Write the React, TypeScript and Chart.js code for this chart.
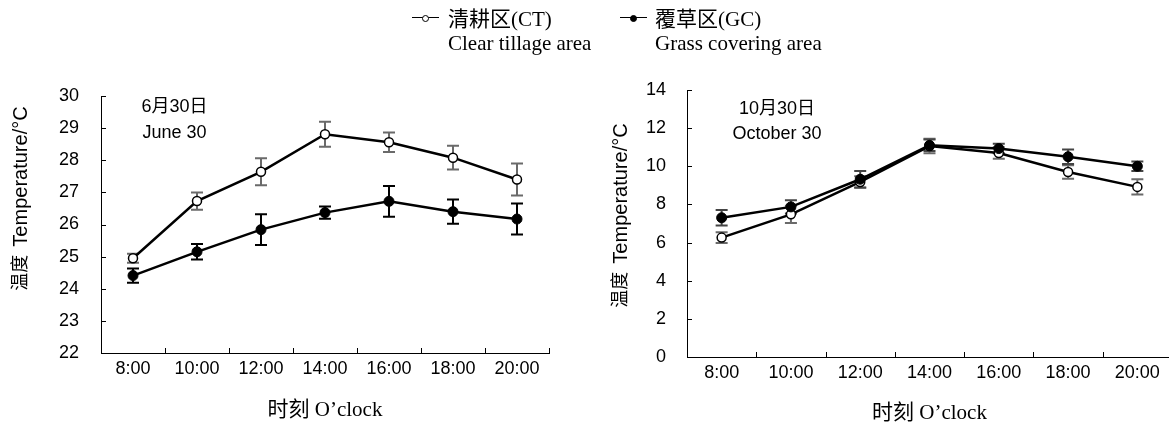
import React, { useEffect, useRef } from 'react';
import { Chart, registerables } from 'chart.js';

Chart.register(...registerables);

const categories = ['8:00', '10:00', '12:00', '14:00', '16:00', '18:00', '20:00'];

const juneCT = [24.95, 26.73, 27.64, 28.81, 28.56, 28.08, 27.4];
const juneCTErr = [0.14, 0.27, 0.42, 0.39, 0.3, 0.37, 0.5];
const juneGC = [24.41, 25.15, 25.84, 26.37, 26.72, 26.4, 26.17];
const juneGCErr = [0.22, 0.24, 0.48, 0.19, 0.48, 0.38, 0.48];

const octCT = [6.26, 7.48, 9.18, 11.06, 10.7, 9.7, 8.92];
const octCTErr = [0.28, 0.45, 0.3, 0.38, 0.3, 0.35, 0.4];
const octGC = [7.3, 7.87, 9.32, 11.1, 10.93, 10.5, 10.0];
const octGCErr = [0.41, 0.35, 0.43, 0.3, 0.25, 0.38, 0.25];

const juneTicks = { min: 22, max: 30, step: 1 };
const octTicks = { min: 0, max: 14, step: 2 };

const seriesNames = ['清耕区(CT)', '覆草区(GC)'];
const seriesNamesEn = ['Clear tillage area', 'Grass covering area'];
const xTitle = '时刻 O’clock';
const yTitleCn = '温度';
const yTitleEn = 'Temperature/°C';
const juneNote = ['6月30日', 'June 30'];
const octNote = ['10月30日', 'October 30'];

const SANS = '"Liberation Sans", Arial, "Noto Sans CJK SC", sans-serif';
const SERIF = '"Liberation Serif", "Times New Roman", "Noto Sans CJK SC", serif';

const decorPlugin = {
  id: 'decor',
  beforeDatasetsDraw(chart: any) {
    const ctx = chart.ctx;
    const ys = chart.scales.y;
    chart.data.datasets.forEach((ds: any, i: number) => {
      const meta = chart.getDatasetMeta(i);
      ctx.save();
      ctx.strokeStyle = ds.errorColor;
      ctx.lineWidth = 2;
      meta.data.forEach((pt: any, j: number) => {
        const v = ds.data[j];
        const e = ds.errors[j];
        const x = pt.x;
        const y1 = ys.getPixelForValue(v + e);
        const y2 = ys.getPixelForValue(v - e);
        const cap = 6;
        ctx.beginPath();
        ctx.moveTo(x, y1);
        ctx.lineTo(x, y2);
        ctx.moveTo(x - cap, y1);
        ctx.lineTo(x + cap, y1);
        ctx.moveTo(x - cap, y2);
        ctx.lineTo(x + cap, y2);
        ctx.stroke();
      });
      ctx.restore();
    });
  },
  afterDraw(chart: any, _args: any, opts: any) {
    const ctx = chart.ctx;
    const xs = chart.scales.x;
    const ys = chart.scales.y;
    const ca = chart.chartArea;
    ctx.save();
    ctx.strokeStyle = '#000';
    ctx.lineWidth = 1;
    ctx.beginPath();
    ys.ticks.forEach((_t: any, i: number) => {
      const py = Math.round(ys.getPixelForTick(i)) + 0.5;
      ctx.moveTo(ca.left, py);
      ctx.lineTo(ca.left + 5, py);
    });
    const n = chart.data.labels.length;
    for (let i = 0; i <= n; i++) {
      const px = Math.round(xs.getPixelForValue(i - 0.5)) + 0.5;
      ctx.moveTo(px, ca.bottom);
      ctx.lineTo(px, ca.bottom - 5);
    }
    ctx.stroke();

    // y title (mixed fonts, rotated)
    const yt = opts.yTitle;
    ctx.save();
    ctx.translate(yt.x, yt.y);
    ctx.rotate(-Math.PI / 2);
    ctx.fillStyle = '#000';
    ctx.textBaseline = 'middle';
    ctx.textAlign = 'left';
    const fCn = '18px ' + SERIF;
    const fEn = '20px ' + SANS;
    ctx.font = fCn;
    const w1 = ctx.measureText(yTitleCn).width;
    ctx.font = fEn;
    const w2 = ctx.measureText(yTitleEn).width;
    const gap = 8;
    const sx = -(w1 + gap + w2) / 2;
    ctx.font = fCn;
    ctx.fillText(yTitleCn, sx, 0);
    ctx.font = fEn;
    ctx.fillText(yTitleEn, sx + w1 + gap, 0);
    ctx.restore();

    // date note
    const nt = opts.note;
    ctx.fillStyle = '#000';
    ctx.textAlign = 'center';
    ctx.textBaseline = 'middle';
    ctx.font = '18px ' + SANS;
    nt.lines.forEach((t: string, i: number) => {
      ctx.fillText(t, nt.x, nt.ys[i]);
    });
    ctx.restore();
  },
};

function makeConfig(
  ct: number[], ctErr: number[], gc: number[], gcErr: number[],
  ticks: { min: number; max: number; step: number },
  layout: { yWidth: number; xHeight: number; top: number; right: number; titleBottom: number; labelPad: number; yPad: number },
  yTitle: { x: number; y: number },
  note: { x: number; ys: number[]; lines: string[] },
  gcErrColor: string,
): any {
  return {
    type: 'line',
    data: {
      labels: categories,
      datasets: [
        {
          label: seriesNames[0],
          data: ct,
          errors: ctErr,
          errorColor: '#6a6a6a',
          borderColor: '#000',
          borderWidth: 2.5,
          pointRadius: 4.5,
          pointBackgroundColor: '#fff',
          pointBorderColor: '#000',
          pointBorderWidth: 1.5,
          fill: false,
          tension: 0,
          order: 2,
        },
        {
          label: seriesNames[1],
          data: gc,
          errors: gcErr,
          errorColor: gcErrColor,
          borderColor: '#000',
          borderWidth: 2.5,
          pointRadius: 5,
          pointBackgroundColor: '#000',
          pointBorderColor: '#000',
          pointBorderWidth: 1,
          fill: false,
          tension: 0,
          order: 1,
        },
      ],
    },
    options: {
      responsive: false,
      animation: false,
      devicePixelRatio: 1,
      layout: { padding: { top: layout.top, right: layout.right, left: 0, bottom: 0 } },
      plugins: {
        legend: { display: false },
        tooltip: { enabled: false },
        decor: { yTitle, note },
      },
      scales: {
        x: {
          type: 'category',
          offset: true,
          grid: { display: false, drawTicks: false },
          border: { display: true, color: '#000', width: 1 },
          ticks: { color: '#000', font: { family: SANS, size: 18 }, padding: layout.labelPad, maxRotation: 0, autoSkip: false },
          title: {
            display: true,
            text: xTitle,
            color: '#000',
            font: { family: SERIF, size: 21 },
            padding: { top: 0, bottom: layout.titleBottom },
          },
          afterFit: (s: any) => { s.height = layout.xHeight; },
        },
        y: {
          min: ticks.min,
          max: ticks.max,
          grid: { display: false, drawTicks: false },
          border: { display: true, color: '#000', width: 1 },
          ticks: { stepSize: ticks.step, color: '#000', font: { family: SANS, size: 18 }, padding: layout.yPad },
          afterFit: (s: any) => { s.width = layout.yWidth; },
        },
      },
    },
    plugins: [decorPlugin],
  };
}

export default function App() {
  const leftRef = useRef<HTMLCanvasElement>(null);
  const rightRef = useRef<HTMLCanvasElement>(null);

  useEffect(() => {
    const c1 = new Chart(leftRef.current as HTMLCanvasElement, makeConfig(
      juneCT, juneCTErr, juneGC, juneGCErr, juneTicks,
      { yWidth: 101, xHeight: 73, top: 96, right: 31, titleBottom: 3, labelPad: 5, yPad: 22 },
      { x: 21.7, y: 198.5 },
      { x: 174.5, ys: [107.5, 133], lines: juneNote },
      '#000',
    ));
    const c2 = new Chart(rightRef.current as HTMLCanvasElement, makeConfig(
      octCT, octCTErr, octGC, octGCErr, octTicks,
      { yWidth: 97, xHeight: 69, top: 90, right: 18, titleBottom: 0, labelPad: 5, yPad: 21 },
      { x: 31.7, y: 215.5 },
      { x: 187, ys: [109, 134], lines: octNote },
      '#444',
    ));
    return () => {
      c1.destroy();
      c2.destroy();
    };
  }, []);

  const textStyle: React.CSSProperties = {
    position: 'absolute',
    fontFamily: SERIF,
    fontSize: 21,
    lineHeight: '24px',
    whiteSpace: 'nowrap',
    color: '#000',
  };

  const marker = (left: number, filled: boolean) => (
    <>
      <div style={{ position: 'absolute', left, top: 17, width: 27, height: 0, borderTop: '1.5px solid #000' }} />
      <div
        style={{
          position: 'absolute',
          left: left + 10,
          top: 14.5,
          width: 7,
          height: 7,
          boxSizing: 'border-box',
          border: '1px solid #000',
          borderRadius: '50%',
          background: filled ? '#000' : '#fff',
        }}
      />
    </>
  );

  return (
    <div style={{ position: 'fixed', left: 0, top: 0, width: 1169, height: 426, overflow: 'hidden', background: '#fff' }}>
      <canvas ref={leftRef} width={580} height={426} style={{ position: 'absolute', left: 0, top: 0 }} />
      <canvas ref={rightRef} width={600} height={426} style={{ position: 'absolute', left: 590, top: 0 }} />
      {marker(412, false)}
      <div style={{ ...textStyle, left: 448, top: 7 }}>{seriesNames[0]}</div>
      <div style={{ ...textStyle, left: 448, top: 31 }}>{seriesNamesEn[0]}</div>
      {marker(620, true)}
      <div style={{ ...textStyle, left: 655, top: 7 }}>{seriesNames[1]}</div>
      <div style={{ ...textStyle, left: 655, top: 31 }}>{seriesNamesEn[1]}</div>
    </div>
  );
}
